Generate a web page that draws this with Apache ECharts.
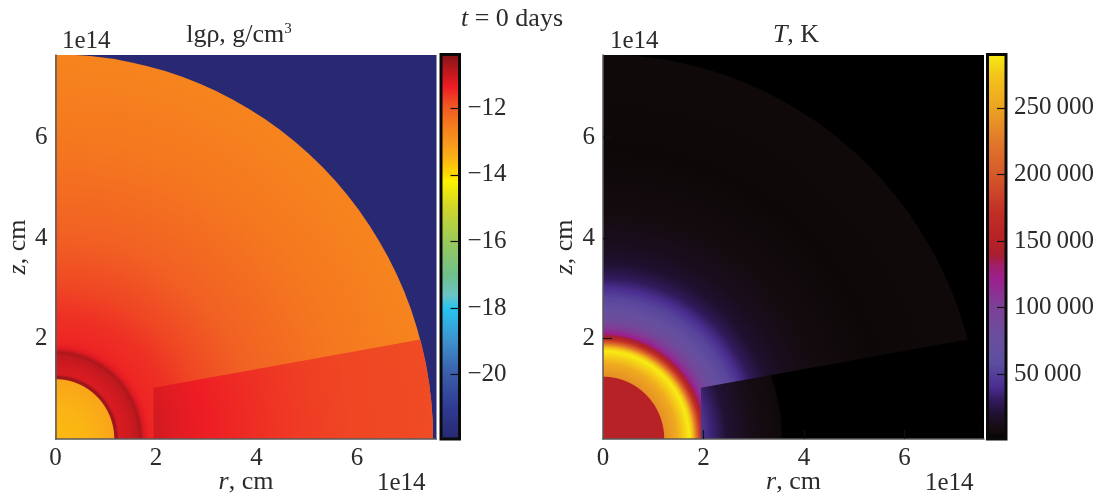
<!DOCTYPE html>
<html><head><meta charset="utf-8">
<style>html,body{margin:0;padding:0;background:#fff}#c{width:1102px;height:497px}</style>
<script src="https://cdn.jsdelivr.net/npm/echarts@6/dist/echarts.min.js"></script>
</head><body><div id="c"></div>
<script>
const rhoUpperR = [0,0.6,1.18,1.2,1.24,1.27,1.3,1.5,1.66,1.72,1.8,1.9,2.05,2.5,3.0,4.0,5.0,6.0,7.65];
const rhoUpperV = [-13.6,-13.55,-13.3,-10.75,-10.6,-11.05,-11.2,-11.1,-10.95,-10.8,-11.25,-11.45,-11.5,-11.6,-11.8,-12.1,-12.3,-12.5,-12.7];
const rhoLowerR = [1.95,2.4,3.0,4.0,5.0,6.0,7.65];
const rhoLowerV = [-11.1,-11.25,-11.38,-11.55,-11.7,-11.8,-11.85];
const tempUpperR = [0,1.23,1.25,1.5,1.65,1.75,1.82,1.9,1.98,2.05,2.1,2.2,2.35,2.55,2.8,3.0,3.2,3.5,3.9,4.5,5.7,7.65];
const tempUpperV = [152000,152000,238000,255000,278000,290000,270000,215000,170000,139000,122000,105000,85000,70000,55000,42000,31000,21000,14000,9000,6000,7000];
const tempLowerR = [1.95,2.2,2.5,3.0,3.6,3.65,7.65];
const tempLowerV = [52000,36000,22000,12000,7000,1400,1400];
// boundary of the equatorial wedge, [r, z] in 1e14 cm
const wedgeR = [1.95,1.95,7.65,7.65];
const wedgeZ = [0,1.02,2.05,0];
// the shells read a little narrower along r than along z
const rOverZ = 0.982;
// colour scales: [value, colour]
const rhoScaleV = [-10.38,-11.38,-12,-12.5,-13,-13.5,-14,-14.2,-15,-16,-17,-17.6,-18,-19,-20,-21,-21.94];
const rhoScaleC = ['#7f1416','#ed1c24','#f05a24','#f5791f','#f7941d','#fbb116','#fedb00','#fff200','#cfd52b','#9aca5b','#6fc08c','#6cc5c4','#27c4f0','#3f8fcb','#3a5ba8','#2e3a92','#27276f'];
const tempScaleV = [1400,8000,21000,31600,41500,59000,77000,102000,122000,132000,139000,150000,172000,200000,222000,250000,272800,290100];
const tempScaleC = ['#000000','#130b0c','#1f1030','#331b5e','#4a2d90','#5c4ea0','#6a4f9e','#7d3f96','#9c1f8d','#a01f6a','#a81e32','#b52126','#c22f25','#d55a2a','#e0752a','#eda421','#f4c41a','#f7ec13'];
// tick labels
const axisTicks = [0,2,4,6];
const axisTickMarks = [2,4,6];
const yTicks = [2,4,6];
const rhoBarTicks = [-12,-14,-16,-18,-20];
const tempBarTicks = [50000,100000,150000,200000,250000];
const rhoFloor = -21.85;

const FONT = 'Liberation Serif', INK = '#2b2b2b', TICK = 25, NAME = 26;
function hex(c){return [1,3,5].map(i=>parseInt(c.substr(i,2),16));}
function colourOf(v,sv,sc){
  const up = sv[0] < sv[sv.length-1];
  for(let i=0;i<sv.length-1;i++){
    const a=sv[i],b=sv[i+1];
    if(up? v<=b : v>=b){
      const t=Math.max(0,Math.min(1,(v-a)/(b-a)));
      const A=hex(sc[i]),B=hex(sc[i+1]);
      return 'rgb('+A.map((x,k)=>Math.round(x+(B[k]-x)*t)).join(',')+')';
    }
  }
  return sc[sc.length-1];
}
function discItem(radii,vals,sv,sc,wedge){
  return function(params,api){
    const c=api.coord([0,0]);
    const R=radii[radii.length-1];
    const rp=api.size([R,R])[1];
    const stops=radii.map((r,i)=>({offset:r/R,color:colourOf(vals[i],sv,sc)}));
    const g={type:'group',silent:true,children:[{type:'sector',x:c[0],y:c[1],scaleX:rOverZ,scaleY:1,
      shape:{cx:0,cy:0,r0:0,r:rp,startAngle:-Math.PI/2,endAngle:0,clockwise:true},
      style:{fill:{type:'radial',x:0,y:0,r:rp,global:true,colorStops:stops}},silent:true}]};
    if(wedge){
      g.clipPath={type:'polygon',shape:{points:wedgeR.map((r,i)=>api.coord([r,wedgeZ[i]]))}};
    }
    return g;
  };
}
function barItem(sv,sc){
  const hi=sv[0]>sv[sv.length-1]?sv[0]:sv[sv.length-1];
  const lo=sv[0]>sv[sv.length-1]?sv[sv.length-1]:sv[0];
  return function(params,api){
    const a=api.coord([0,hi]),b=api.coord([1,lo]);
    const stops=sv.map((v,i)=>({offset:(hi-v)/(hi-lo),color:sc[i]})).sort((p,q)=>p.offset-q.offset);
    return {type:'rect',shape:{x:a[0],y:a[1],width:b[0]-a[0],height:b[1]-a[1]},
      style:{fill:{type:'linear',x:0,y:0,x2:0,y2:1,colorStops:stops},stroke:'#0a0a0a',lineWidth:3},silent:true};
  };
}
const grids=[],xAxes=[],yAxes=[],series=[];
function rich(){return {i:{fontFamily:FONT,fontSize:NAME,fontStyle:'italic',color:INK}};}
function panel(o){
  const gi=grids.length;
  grids.push({left:o.x,top:55,width:381,height:384,show:true,backgroundColor:o.bg,borderWidth:0,outerBoundsMode:'none',containLabel:false});
  const line={show:true,onZero:false,lineStyle:{color:'#5a5a5a',width:1.5}};
  xAxes.push({gridIndex:gi,type:'value',min:0,max:7.58,z:5,axisLine:line,splitLine:{show:false},
    axisTick:{show:o.ticks,inside:true,length:9,lineStyle:{color:'#111',width:1.2},customValues:axisTickMarks},
    axisLabel:{margin:7,fontFamily:FONT,fontSize:TICK,color:INK,customValues:axisTicks,hideOverlap:false},
    name:'{i|r}, cm',nameLocation:'middle',nameGap:30,nameMoveOverlap:false,
    nameTextStyle:{fontFamily:FONT,fontSize:NAME,color:INK,rich:rich()}});
  yAxes.push({gridIndex:gi,type:'value',min:0,max:7.64,z:5,axisLine:line,splitLine:{show:false},
    axisTick:{show:o.ticks,inside:true,length:9,lineStyle:{color:'#111',width:1.2},customValues:yTicks},
    axisLabel:{margin:8,fontFamily:FONT,fontSize:TICK,color:INK,customValues:yTicks},
    name:'{i|z}, cm',nameLocation:'middle',nameGap:24,
    nameTextStyle:{fontFamily:FONT,fontSize:NAME,color:INK,rich:rich()}});
  series.push({type:'custom',xAxisIndex:gi,yAxisIndex:gi,coordinateSystem:'cartesian2d',clip:true,z:2,animation:false,silent:true,
    data:[[0]],renderItem:discItem(o.upR,o.upV,o.sv,o.sc,false)});
  series.push({type:'custom',xAxisIndex:gi,yAxisIndex:gi,coordinateSystem:'cartesian2d',clip:true,z:3,animation:false,silent:true,
    data:[[0]],renderItem:discItem(o.loR,o.loV,o.sv,o.sc,true)});
  // colour bar
  const bi=grids.length;
  grids.push({left:o.x+o.barDx,top:54.5,width:18.5,height:384.5,show:false,outerBoundsMode:'none',containLabel:false});
  const hi=Math.max(o.sv[0],o.sv[o.sv.length-1]),lo=Math.min(o.sv[0],o.sv[o.sv.length-1]);
  xAxes.push({gridIndex:bi,type:'value',min:0,max:1,show:false});
  yAxes.push({gridIndex:bi,type:'value',position:'right',min:lo,max:hi,z:6,splitLine:{show:false},
    axisLine:{show:false,onZero:false},
    axisTick:{show:true,inside:true,length:9,lineStyle:{color:'#111',width:1.2},customValues:o.barTicks},
    axisLabel:{margin:8,fontFamily:FONT,fontSize:TICK,color:INK,customValues:o.barTicks,formatter:o.fmt}});
  series.push({type:'custom',xAxisIndex:bi,yAxisIndex:bi,coordinateSystem:'cartesian2d',clip:false,z:2,animation:false,silent:true,
    data:[[0]],renderItem:barItem(o.sv,o.sc)});
}
panel({x:55.5,bg:colourOf(rhoFloor,rhoScaleV,rhoScaleC),ticks:false,upR:rhoUpperR,upV:rhoUpperV,loR:rhoLowerR,loV:rhoLowerV,
  sv:rhoScaleV,sc:rhoScaleC,barDx:385.5,barTicks:rhoBarTicks,fmt:v=>'\u2212'+Math.abs(v)});
panel({x:603,bg:'#000000',ticks:true,upR:tempUpperR,upV:tempUpperV,loR:tempLowerR,loV:tempLowerV,
  sv:tempScaleV,sc:tempScaleC,barDx:384.5,barTicks:tempBarTicks,
  fmt:v=>String(v).replace(/(\d)(\d{3})$/,'$1\u2009$2')});
function txt(left,top,text){
  return {type:'text',left,top,silent:true,z:10,style:{text,fontFamily:FONT,fontSize:TICK,fill:INK}};
}
const chart=echarts.init(document.getElementById('c'),null,{renderer:'canvas'});
const titleStyle={fontFamily:FONT,fontSize:NAME,fontWeight:'normal',color:INK,rich:{i:{fontFamily:FONT,fontSize:NAME,fontStyle:'italic',color:INK},s:{fontFamily:FONT,fontSize:15,color:INK,verticalAlign:'top',lineHeight:20,padding:[0,0,8,0]}}};
chart.setOption({animation:false,grid:grids,xAxis:xAxes,yAxis:yAxes,series,
  title:[
    {text:'lg\u03c1, g/cm{s|3}',left:234,top:17,textAlign:'center',textStyle:titleStyle},
    {text:'{i|T}, K',left:791,top:17,textAlign:'center',textStyle:titleStyle},
    {text:'{i|t} = 0 days',left:507,top:1,textAlign:'center',textStyle:titleStyle}
  ],
  graphic:[txt(62,29,'1e14'),txt(610,29,'1e14'),txt(377,471,'1e14'),txt(925,471,'1e14')]
});
</script></body></html>
